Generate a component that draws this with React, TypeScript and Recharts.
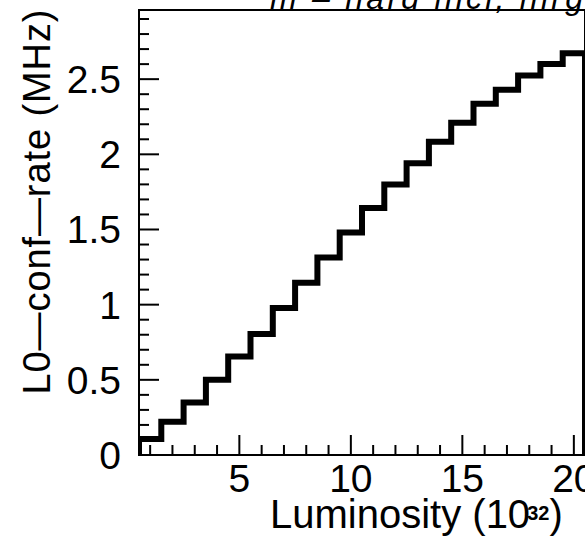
import React from "react";
import { LineChart, Line, XAxis, YAxis, ReferenceArea } from "recharts";

// Luminosity bins (units of 10^32), one per integer value
const luminosity = [1, 2, 3, 4, 5, 6, 7, 8, 9, 10, 11, 12, 13, 14, 15, 16, 17, 18, 19, 20];
// L0-confirmation rate per bin (MHz)
const l0Rate = [
  0.107, 0.222, 0.35, 0.5, 0.655, 0.805, 0.978, 1.145, 1.313, 1.48,
  1.643, 1.8, 1.94, 2.083, 2.21, 2.337, 2.43, 2.525, 2.6, 2.672,
];
const binWidth = 1;

const xRange: [number, number] = [0.5, 20.5];
const yRange: [number, number] = [0, 2.96];
const xMajorTicks = [5, 10, 15, 20];
const yMajorTicks = [0, 0.5, 1, 1.5, 2, 2.5];
const xTicks = luminosity;
const yTicks = Array.from({ length: 30 }, (_, i) => i / 10);

const titleText = "m \u2013 hard incl, hlrg";
const yTitle = "L0\u2014conf\u2014rate (MHz)";

const FONT = "'Liberation Sans', Arial, Helvetica, sans-serif";

// Histogram outline: up from zero at the first edge, across each bin, back down at the last edge
const last = luminosity.length - 1;
const outline = [
  { x: luminosity[0] - binWidth / 2, y: 0 },
  ...luminosity.map((c, i) => ({ x: c - binWidth / 2, y: l0Rate[i] })),
  { x: luminosity[last] + binWidth / 2, y: l0Rate[last] },
  { x: luminosity[last] + binWidth / 2, y: 0 },
];

const XTick = (props: any) => {
  const { x, y, payload } = props;
  const major = xMajorTicks.includes(payload.value);
  return (
    <g>
      <line x1={x} x2={x} y1={y} y2={y - (major ? 20 : 10)} stroke="#000" strokeWidth={2} />
      {major && (
        <text x={x} y={y + 37} textAnchor="middle" fontSize={39} fontFamily={FONT} fill="#000">
          {payload.value}
        </text>
      )}
    </g>
  );
};

const YTick = (props: any) => {
  const { x, y, payload } = props;
  const v = Math.round(payload.value * 10) / 10;
  const major = yMajorTicks.includes(v);
  return (
    <g>
      <line x1={x} x2={x + (major ? 20 : 10)} y1={y} y2={y} stroke="#000" strokeWidth={2} />
      {major && (
        <text x={x - 18} y={y + 14} textAnchor="end" fontSize={39} fontFamily={FONT} fill="#000">
          {String(v)}
        </text>
      )}
    </g>
  );
};

export default function App() {
  return (
    <div style={{ position: "absolute", left: 0, top: 0, width: 585, height: 540, background: "#fff" }}>
      <LineChart
        width={585}
        height={540}
        data={outline}
        margin={{ top: 10, right: 0, bottom: 0, left: 0 }}
      >
        <XAxis
          dataKey="x"
          type="number"
          domain={xRange}
          allowDataOverflow
          ticks={xTicks}
          interval={0}
          tick={<XTick />}
          tickSize={0}
          tickMargin={0}
          tickLine={false}
          axisLine={{ stroke: "#000", strokeWidth: 2 }}
          height={85}
        />
        <YAxis
          type="number"
          domain={yRange}
          allowDataOverflow
          ticks={yTicks}
          interval={0}
          tick={<YTick />}
          tickSize={0}
          tickMargin={0}
          tickLine={false}
          axisLine={{ stroke: "#000", strokeWidth: 2 }}
          width={139}
        />
        <ReferenceArea
          x1={xRange[0]}
          x2={xRange[1]}
          y1={yRange[0]}
          y2={yRange[1]}
          fill="none"
          stroke="#000"
          strokeWidth={2}
          ifOverflow="visible"
        />
        <Line
          type="stepAfter"
          dataKey="y"
          stroke="#000"
          strokeWidth={6}
          strokeLinejoin="miter"
          dot={false}
          activeDot={false}
          isAnimationActive={false}
        />
      </LineChart>
      <svg
        width={585}
        height={540}
        style={{ position: "absolute", left: 0, top: 0, pointerEvents: "none" }}
      >
        <text
          x={270}
          y={9}
          fontSize={32}
          fontStyle="italic"
          fontFamily={FONT}
          textLength={313}
          lengthAdjust="spacing"
          fill="#000"
        >
          {titleText}
        </text>
        <text
          x={50}
          y={202}
          transform="rotate(-90, 50, 202)"
          textAnchor="middle"
          fontSize={38}
          fontFamily={FONT}
          textLength={385}
          lengthAdjust="spacing"
          fill="#000"
        >
          {yTitle}
        </text>
        <text x={270} y={528} fontSize={40} fontFamily={FONT} fill="#000">
          Luminosity (10
          <tspan dx={-3} dy={-8} fontSize={20} fontWeight="bold">
            32
          </tspan>
          <tspan dy={8}>)</tspan>
        </text>
      </svg>
    </div>
  );
}
